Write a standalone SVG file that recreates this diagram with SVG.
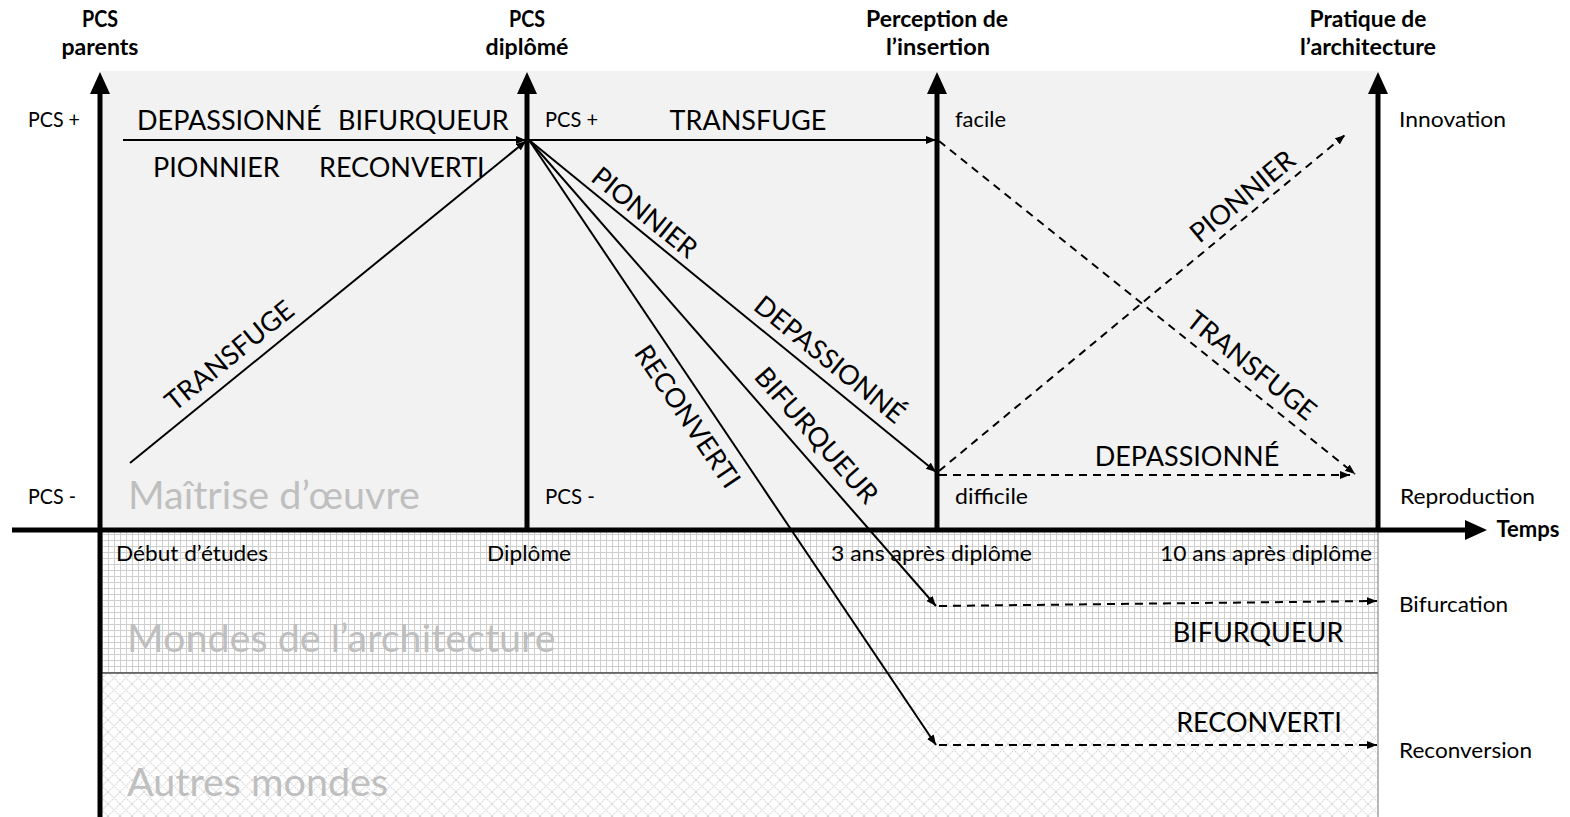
<svg xmlns="http://www.w3.org/2000/svg" width="1570" height="817" viewBox="0 0 1570 817">
<style>
text{font-family:Lato,"Open Sans","Liberation Sans",sans-serif;fill:#000}
.h{font-size:22px;font-weight:bold;text-anchor:middle}
.s{font-size:22px}
.b{font-size:27px}
.w{font-size:39.5px;fill:#bfbfbf}
.m{text-anchor:middle}
.ax{stroke:#000;stroke-width:5;fill:none}
.ln{stroke:#000;stroke-width:2;fill:none;marker-end:url(#ah)}
.dl{stroke:#000;stroke-width:2;fill:none;stroke-dasharray:8 6;marker-end:url(#ah)}
</style>
<defs>
<marker id="ah" markerUnits="userSpaceOnUse" markerWidth="11" markerHeight="9" refX="10" refY="4" orient="auto" viewBox="0 0 11 9">
<path d="M0,0 L10,4 L0,8 z" fill="#000"/>
</marker>
<marker id="big" markerUnits="userSpaceOnUse" markerWidth="24" markerHeight="22" refX="1" refY="10" orient="auto" viewBox="0 0 24 22">
<path d="M0,0 L22,10 L0,20 z" fill="#000"/>
</marker>
<pattern id="grid" patternUnits="userSpaceOnUse" width="6" height="6">
<rect width="6" height="6" fill="#fff"/>
<path d="M0,0.5 H6 M0.5,0 V6" stroke="#cfcfcf" stroke-width="1"/>
</pattern>
<pattern id="diam" patternUnits="userSpaceOnUse" width="12" height="12">
<rect width="12" height="12" fill="#fff"/>
<path d="M0,0 L12,12 M12,0 L0,12" stroke="#d6d6d6" stroke-width="1.2" stroke-dasharray="1.5 1"/>
</pattern>
</defs>

<g id="backgrounds">
<rect x="100" y="71" width="1280" height="459" fill="#f2f2f2"/>
<rect x="100" y="530" width="1278" height="143" fill="url(#grid)"/>
<rect x="100" y="673" width="1278" height="144" fill="url(#diam)"/>
<line x1="100" y1="673" x2="1378" y2="673" stroke="#000" stroke-width="1.2"/>
<line x1="1378" y1="530" x2="1378" y2="817" stroke="#777" stroke-width="1"/>
</g>

<g id="band-labels">
<text class="w" x="128" y="509">Maîtrise d’œuvre</text>
<text class="w" x="127" y="652">Mondes de l’architecture</text>
<text class="w" x="127" y="796">Autres mondes</text>
</g>

<g id="axes">
<line class="ax" x1="12" y1="530" x2="1466" y2="530" marker-end="url(#big)"/>
<line class="ax" x1="100" y1="817" x2="100" y2="93" marker-end="url(#big)"/>
<line class="ax" x1="527" y1="530" x2="527" y2="93" marker-end="url(#big)"/>
<line class="ax" x1="937" y1="530" x2="937" y2="93" marker-end="url(#big)"/>
<line class="ax" x1="1378" y1="530" x2="1378" y2="93" marker-end="url(#big)"/>
</g>

<g id="axis-pcs-parents">
<text class="h" x="100" y="27" textLength="36" lengthAdjust="spacingAndGlyphs">PCS</text>
<text class="h" x="100" y="55" textLength="77" lengthAdjust="spacingAndGlyphs">parents</text>
<text class="s" x="28" y="127" textLength="52" lengthAdjust="spacingAndGlyphs">PCS +</text>
<text class="s" x="28" y="504" textLength="48" lengthAdjust="spacingAndGlyphs">PCS -</text>
<text class="s" x="116" y="561" textLength="152" lengthAdjust="spacingAndGlyphs">Début d’études</text>
</g>
<g id="axis-pcs-diplome">
<text class="h" x="527" y="27" textLength="36" lengthAdjust="spacingAndGlyphs">PCS</text>
<text class="h" x="527" y="55" textLength="83" lengthAdjust="spacingAndGlyphs">diplômé</text>
<text class="s" x="545" y="127" textLength="53" lengthAdjust="spacingAndGlyphs">PCS +</text>
<text class="s" x="545" y="504" textLength="50" lengthAdjust="spacingAndGlyphs">PCS -</text>
<text class="s" x="487" y="561" textLength="84" lengthAdjust="spacingAndGlyphs">Diplôme</text>
</g>
<g id="axis-insertion">
<text class="h" x="937" y="27" textLength="142" lengthAdjust="spacingAndGlyphs">Perception de</text>
<text class="h" x="938" y="55" textLength="104" lengthAdjust="spacingAndGlyphs">l’insertion</text>
<text class="s" x="955" y="127" textLength="51" lengthAdjust="spacingAndGlyphs">facile</text>
<text class="s" x="955" y="504" textLength="73" lengthAdjust="spacingAndGlyphs">difficile</text>
<text class="s" x="831" y="561" textLength="201" lengthAdjust="spacingAndGlyphs">3 ans après diplôme</text>
</g>
<g id="axis-pratique">
<text class="h" x="1368" y="27" textLength="117" lengthAdjust="spacingAndGlyphs">Pratique de</text>
<text class="h" x="1368" y="55" textLength="136" lengthAdjust="spacingAndGlyphs">l’architecture</text>
<text class="s" x="1399" y="127" textLength="107" lengthAdjust="spacingAndGlyphs">Innovation</text>
<text class="s" x="1400" y="504" textLength="135" lengthAdjust="spacingAndGlyphs">Reproduction</text>
<text class="s" x="1160" y="561" textLength="212" lengthAdjust="spacingAndGlyphs">10 ans après diplôme</text>
<text class="s" x="1399" y="612" textLength="109" lengthAdjust="spacingAndGlyphs">Bifurcation</text>
<text class="s" x="1399" y="758" textLength="133" lengthAdjust="spacingAndGlyphs">Reconversion</text>
</g>
<g id="axis-temps">
<text class="h" x="1528" y="537" textLength="63" lengthAdjust="spacingAndGlyphs">Temps</text>
</g>

<g id="connectors">
<path class="ln" d="M123,140 L526,140"/>
<path class="ln" d="M130,463 L526,141"/>
<path class="ln" d="M529,140 L936,140"/>
<path class="ln" d="M529,140 L936,472"/>
<path class="ln" d="M529,140 L936,606"/>
<path class="ln" d="M529,140 L936,745"/>
<path class="dl" d="M939,141 L1355,474"/>
<path class="dl" d="M939,471 L1345,135"/>
<path class="dl" d="M939,475 L1350,475"/>
<path class="dl" d="M939,606 L1377,601"/>
<path class="dl" d="M939,745 L1377,745"/>
</g>

<g id="trajectory-labels">
<text class="b" x="137" y="130">DEPASSIONNÉ</text>
<text class="b" x="338" y="130">BIFURQUEUR</text>
<text class="b" x="153" y="177">PIONNIER</text>
<text class="b" x="319" y="177">RECONVERTI</text>
<text class="b m" x="748" y="130">TRANSFUGE</text>
<text class="b m" transform="translate(229,355) rotate(-39.1)" y="10">TRANSFUGE</text>
<text class="b m" transform="translate(645,212) rotate(39)" y="10">PIONNIER</text>
<text class="b m" transform="translate(830,359) rotate(39)" y="10">DEPASSIONNÉ</text>
<text class="b m" transform="translate(688,416) rotate(55.9)" y="10">RECONVERTI</text>
<text class="b m" transform="translate(817,435) rotate(48.6)" y="10">BIFURQUEUR</text>
<text class="b m" transform="translate(1242,196) rotate(-39.6)" y="10">PIONNIER</text>
<text class="b m" transform="translate(1252,365) rotate(38.7)" y="10">TRANSFUGE</text>
<text class="b m" x="1187" y="466">DEPASSIONNÉ</text>
<text class="b m" x="1258" y="642">BIFURQUEUR</text>
<text class="b m" x="1259" y="732">RECONVERTI</text>
</g>
</svg>
